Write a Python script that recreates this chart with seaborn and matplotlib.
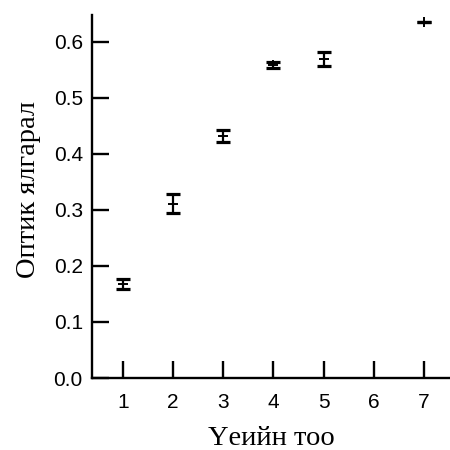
import matplotlib
matplotlib.use("Agg")
import matplotlib.pyplot as plt
import seaborn as sns
import pandas as pd

# Generation number vs. optical emission (mean and spread)
generations = [1, 2, 3, 4, 5, 7]
emission = [0.168, 0.311, 0.432, 0.559, 0.569, 0.636]
emission_err = [0.009, 0.017, 0.010, 0.005, 0.0125, 0.0]
x_ticks = [1, 2, 3, 4, 5, 6, 7]
y_ticks = [0.0, 0.1, 0.2, 0.3, 0.4, 0.5, 0.6]

df = pd.DataFrame({"gen": generations, "val": emission, "err": emission_err})

sns.set_theme(style="ticks")
plt.rcParams["font.family"] = ["Liberation Sans", "DejaVu Sans"]

fig = plt.figure(figsize=(4.5, 4.5), dpi=100)
ax = fig.add_axes([0.204, 0.16, 0.796, 0.807])

ax.errorbar(df["gen"], df["val"], yerr=df["err"], fmt="none",
            ecolor="black", elinewidth=1.6, capsize=5, capthick=2.3)
sns.scatterplot(data=df, x="gen", y="val", marker="+", s=45,
                color="black", linewidth=1.4, ax=ax, zorder=3)

ax.set_xlim(0.382, 7.52)
ax.set_ylim(0.0, 0.648)
ax.set_xticks(x_ticks)
ax.set_yticks(y_ticks)
ax.set_yticklabels([f"{v:.1f}" for v in y_ticks])

for side in ("top", "right"):
    ax.spines[side].set_visible(False)
for side in ("left", "bottom"):
    ax.spines[side].set_linewidth(1.7)
    ax.spines[side].set_color("black")

ax.tick_params(axis="both", direction="in", length=12, width=1.7,
               colors="black", labelsize=15)
ax.tick_params(axis="x", pad=10.5)
ax.tick_params(axis="y", pad=6.5)

serif = {"family": ["Liberation Serif", "DejaVu Serif"], "size": 20.5, "color": "black"}
ax.set_xlabel("Үеийн тоо", fontdict=serif, labelpad=10.5)
ax.set_ylabel("Оптик ялгарал", fontdict=serif, labelpad=9)
ax.yaxis.label.set_y(0.52)

fig.savefig("out.png", dpi=100)
